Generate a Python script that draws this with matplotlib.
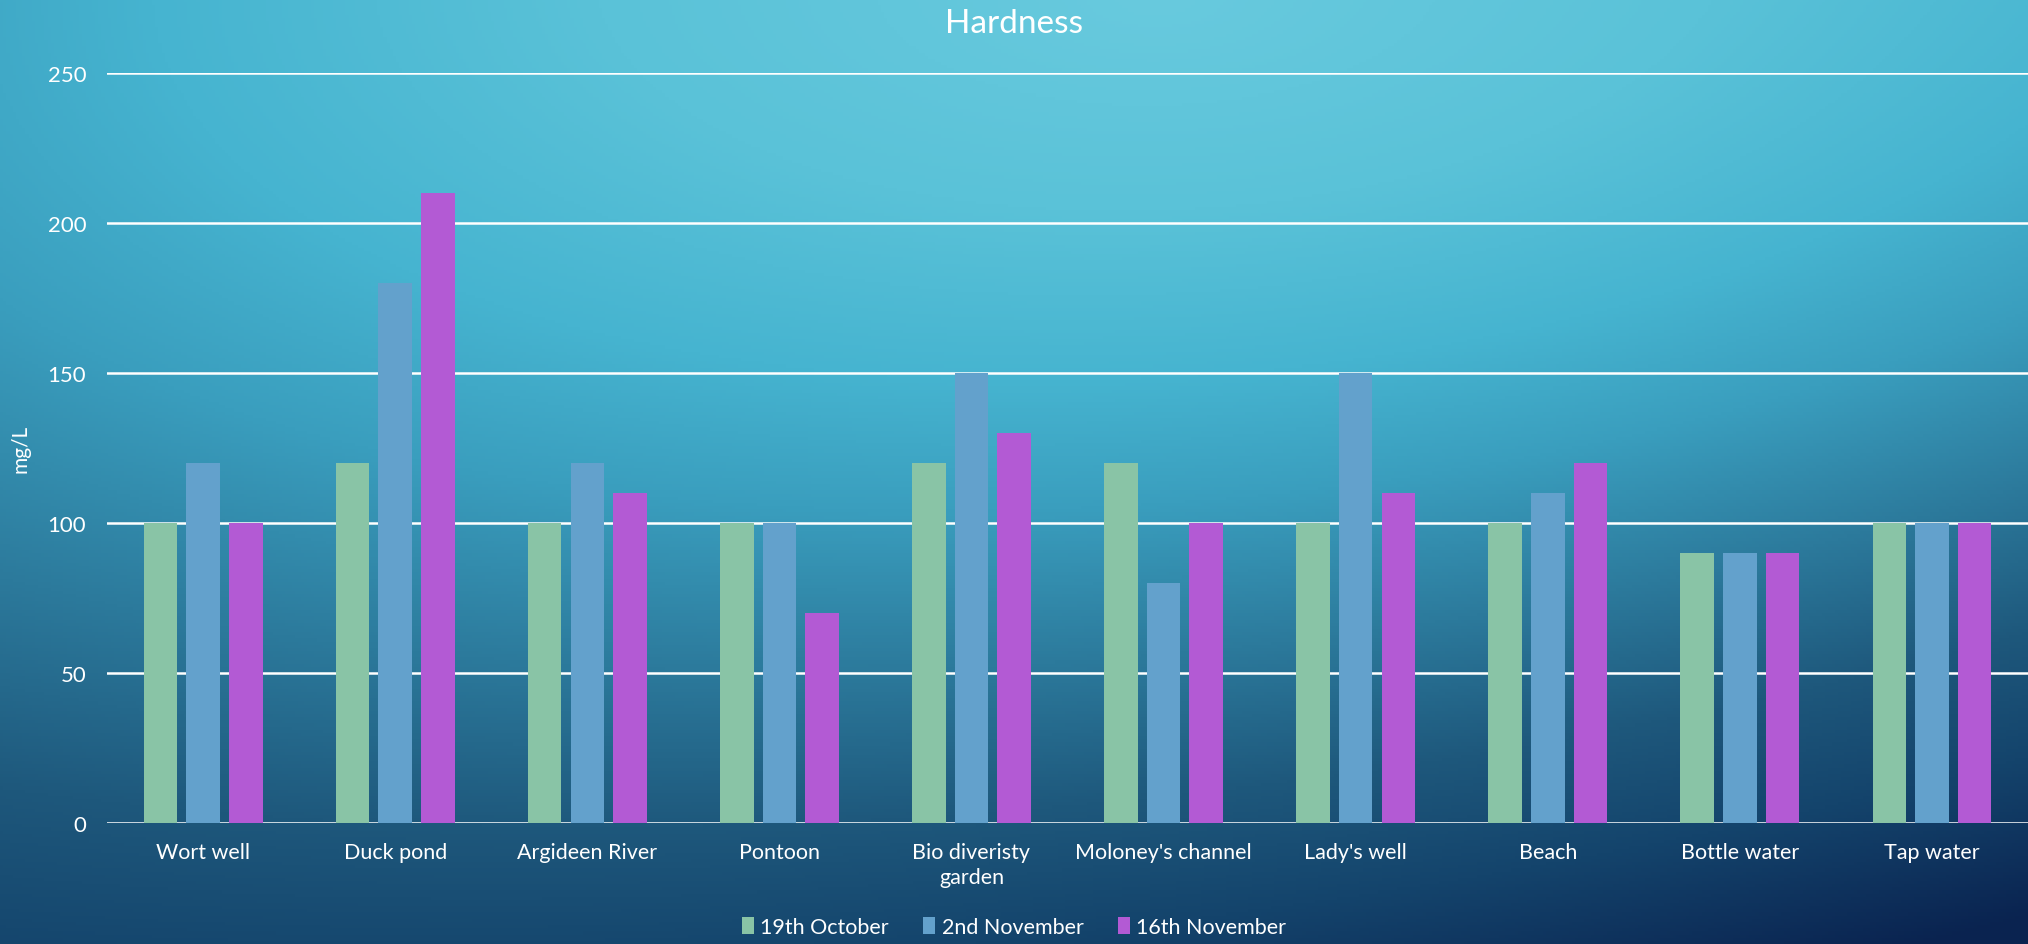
import numpy as np
import matplotlib
matplotlib.use('Agg')
import matplotlib.pyplot as plt
from matplotlib.patches import Patch

sites = ['Wort well', 'Duck pond', 'Argideen River', 'Pontoon', 'Bio diveristy\ngarden',
         "Moloney's channel", "Lady's well", 'Beach', 'Bottle water', 'Tap water']
oct19 = [100, 120, 100, 100, 120, 120, 100, 100, 90, 100]
nov2 = [120, 180, 120, 100, 150, 80, 150, 110, 90, 100]
nov16 = [100, 210, 110, 70, 130, 100, 110, 120, 90, 100]
series_names = ['19th October', '2nd November', '16th November']
colors = ['#89C4A6', '#63A1CC', '#B35AD4']

plt.rcParams['font.family'] = ['Lato', 'DejaVu Sans']

fig = plt.figure(figsize=(20.28, 9.45), dpi=100)

# background: radial glow near top centre, dark navy towards bottom right
h, w = 300, 640
yy, xx = np.mgrid[0:1:h * 1j, 0:1:w * 1j]
d = np.sqrt(((xx - 0.57) / 1.1) ** 2 + (yy / 1.05) ** 2) + 0.3 * xx * yy
stops = np.array([0.0, 0.25, 0.45, 0.6, 0.78, 0.95, 1.1, 1.3])
cols = np.array([[104, 202, 222], [90, 194, 216], [70, 180, 208], [58, 158, 190],
                 [44, 122, 156], [30, 88, 124], [20, 68, 108], [10, 35, 80]]) / 255.0
img = np.stack([np.interp(d, stops, cols[:, i]) for i in range(3)], axis=-1)
bg = fig.add_axes([0, 0, 1, 1])
bg.imshow(img, aspect='auto', extent=[0, 1, 0, 1], origin='upper')
bg.axis('off')

ax = fig.add_axes([0.0528, 0.128, 0.9472, 0.7937])
ax.patch.set_alpha(0)

x = np.arange(len(sites))
bw = 0.175
step = 0.222
for i, vals in enumerate([oct19, nov2, nov16]):
    ax.bar(x + (i - 1) * step, vals, width=bw, color=colors[i], zorder=3)

ax.set_xlim(-0.5, len(sites) - 0.5)
ax.set_ylim(0, 250)
ax.set_yticks(range(0, 251, 50))
ax.grid(axis='y', color='white', linewidth=1.8, zorder=1)
for s in ax.spines.values():
    s.set_visible(False)
ax.tick_params(length=0, colors='white')
ax.tick_params(axis='x', pad=14, labelsize=15.5)
ax.tick_params(axis='y', pad=15, labelsize=16)
ax.set_xticks(x)
ax.set_xticklabels(sites, color='white', linespacing=1.3)
ax.set_ylabel('mg/L', color='white', fontsize=15, labelpad=12)

fig.text(0.5, 0.975, 'Hardness', ha='center', va='center', color='white', fontsize=24)

handles = [Patch(facecolor=c, label=n) for c, n in zip(colors, series_names)]
fig.legend(handles=handles, loc='center', bbox_to_anchor=(0.5, 0.018), ncol=3,
           frameon=False, fontsize=15.5, labelcolor='white', handlelength=0.55,
           handleheight=0.8, handletextpad=0.3, columnspacing=1.6)

fig.savefig('out.png', dpi=100)
